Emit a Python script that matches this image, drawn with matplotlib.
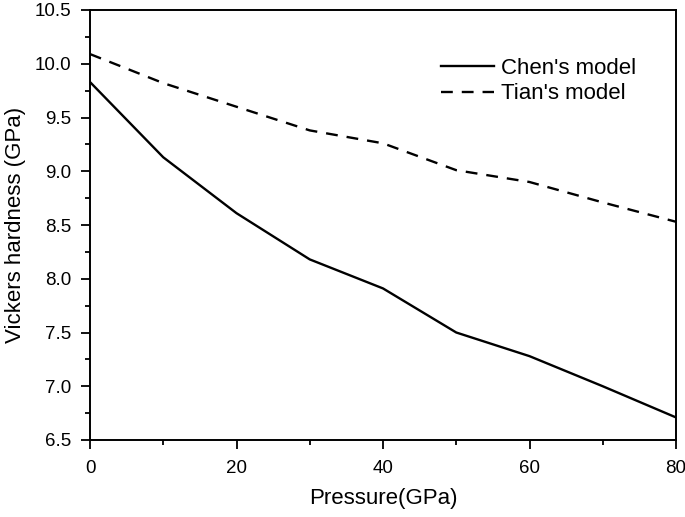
import matplotlib
matplotlib.use("Agg")
import matplotlib.pyplot as plt
from matplotlib.ticker import MultipleLocator

plt.rcParams['font.family'] = ['Liberation Sans', 'DejaVu Sans']

# data
pressure = [0, 10, 20, 30, 40, 50, 60, 70, 80]
chen = [9.83, 9.13, 8.61, 8.18, 7.91, 7.50, 7.28, 7.00, 6.71]
tian = [10.09, 9.82, 9.60, 9.38, 9.26, 9.01, 8.90, 8.71, 8.53]

fig = plt.figure(figsize=(6.85, 5.17), dpi=100)
ax = fig.add_axes([90 / 685, 1 - 440 / 517, 586 / 685, 430 / 517])

ax.plot(pressure, chen, color='black', lw=1.7, label="Chen's model")
ax.plot(pressure, tian, color='black', lw=1.7, dashes=(5, 3.8), label="Tian's model")

ax.set_xlim(0, 80)
ax.set_ylim(6.5, 10.5)
ax.xaxis.set_major_locator(MultipleLocator(20))
ax.xaxis.set_minor_locator(MultipleLocator(10))
ax.yaxis.set_major_locator(MultipleLocator(0.5))
ax.yaxis.set_minor_locator(MultipleLocator(0.25))
ax.yaxis.set_major_formatter(plt.FormatStrFormatter('%.1f'))
ax.tick_params(which='major', direction='out', length=6.5, width=1.3, labelsize=13.5)
ax.tick_params(which='minor', direction='out', length=3.6, width=1.3)
ax.tick_params(axis='x', which='major', pad=8)
ax.tick_params(axis='y', which='major', pad=7)
for s in ax.spines.values():
    s.set_linewidth(1.4)

ax.set_xlabel('Pressure(GPa)', fontsize=16, labelpad=8)
ax.set_ylabel('Vickers hardness (GPa)', fontsize=16, labelpad=6)

ax.legend(loc='upper left', bbox_to_anchor=(0.565, 0.935), frameon=False,
          fontsize=16, handlelength=2.4, handletextpad=0.3, labelspacing=0.2)

fig.savefig('out.png', dpi=100)
